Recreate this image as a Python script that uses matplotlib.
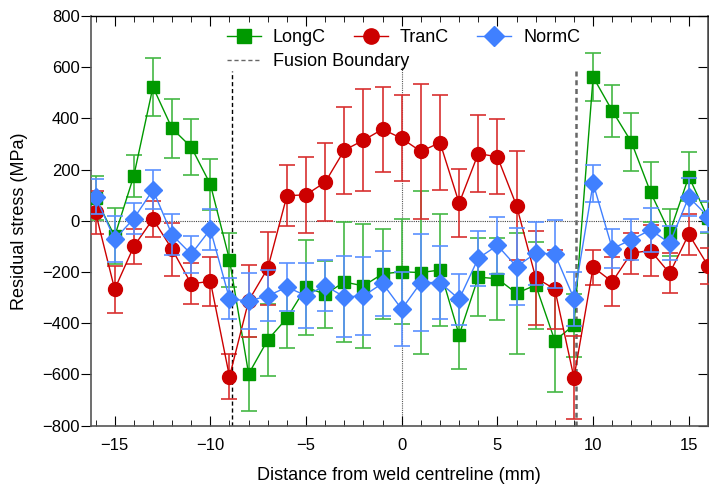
import numpy as np
import matplotlib
matplotlib.use("Agg")
from matplotlib import pyplot as plt
from matplotlib.ticker import MultipleLocator
from matplotlib.lines import Line2D

plt.rcParams['font.family'] = ['Liberation Sans', 'DejaVu Sans']

x = np.arange(-16, 17)

longc = [90, -60, 176, 523, 361, 288, 143, -152, -598, -465, -380, -259, -287, -239, -254, -207, -199,
         -202, -192, -446, -220, -226, -283, -251, -468, -407, 562, 430, 308, 112, -46, 173, 12]
longc_err = [85, 110, 82, 115, 115, 108, 100, 105, 145, 140, 118, 185, 130, 233, 241, 176, 205,
             320, 218, 131, 153, 160, 237, 170, 200, 123, 92, 102, 114, 116, 92, 95, 60]

tranc = [33, -267, -100, 7, -111, -246, -236, -609, -312, -185, 98, 102, 151, 276, 315, 358, 322,
         271, 306, 69, 263, 250, 59, -222, -267, -613, -181, -238, -126, -116, -205, -52, -175]
tranc_err = [84, 92, 70, 70, 103, 80, 96, 88, 140, 142, 120, 148, 153, 170, 200, 166, 168,
             262, 184, 133, 149, 146, 213, 183, 155, 163, 68, 95, 80, 100, 78, 80, 70]

normc = [95, -72, 9, 121, -55, -130, -33, -305, -313, -293, -259, -292, -253, -297, -293, -244, -345,
         -241, -241, -306, -146, -96, -179, -126, -129, -304, 147, -108, -74, -35, -87, 93, 17]
normc_err = [67, 90, 60, 76, 80, 72, 79, 80, 108, 100, 93, 126, 100, 158, 153, 127, 144,
             190, 142, 100, 108, 113, 150, 123, 133, 106, 72, 78, 80, 85, 66, 75, 60]

fusion = [-8.85, 9.1]

fig = plt.figure(figsize=(7.09, 4.87), dpi=100)
ax = fig.add_axes([0.128, 0.126, 0.8705, 0.841])

# reference lines stop below the legend
ax.axhline(0, color='#444444', lw=0.8, ls=(0, (1, 1)), zorder=1)
ax.vlines(0, -800, 600, color='#555555', lw=0.8, ls=(0, (1, 1)), zorder=1)
ax.vlines(fusion[0], -800, 585, color='black', lw=1.0, ls=(0, (3, 2)), zorder=1)
ax.vlines(fusion[1], -800, 585, color='#666666', lw=1.8, ls=(0, (2, 1.5)), zorder=1)

ax.errorbar(x, longc, yerr=longc_err, color='#009900', ecolor='#44b844', elinewidth=1.2,
            capsize=6, capthick=1.2, marker='s', markersize=9, lw=1, zorder=3)
ax.errorbar(x, tranc, yerr=tranc_err, color='#cc0000', ecolor='#d83030', elinewidth=1.2,
            capsize=6, capthick=1.2, marker='o', markersize=10, lw=1, zorder=4)
ax.errorbar(x, normc, yerr=normc_err, color='#4080ff', ecolor='#5a90ff', elinewidth=1.2,
            capsize=6, capthick=1.2, marker='D', markersize=9, lw=1, zorder=5)

ax.set_xlim(-16.25, 16)
ax.set_ylim(-800, 800)
ax.xaxis.set_major_locator(MultipleLocator(5))
ax.xaxis.set_minor_locator(MultipleLocator(1))
ax.yaxis.set_major_locator(MultipleLocator(200))
ax.tick_params(axis='x', which='both', direction='in', top=True, labelsize=12, pad=9)
ax.tick_params(axis='x', which='major', length=7)
ax.tick_params(axis='x', which='minor', length=4)
ax.tick_params(axis='y', direction='out', length=7, labelsize=12, pad=1)
for s in ['left', 'bottom', 'top', 'right']:
    ax.spines[s].set_color('#555555')
    ax.spines[s].set_linewidth(1.2)
ax.spines['top'].set_color('black')
ax.spines['top'].set_linewidth(1.0)

right = ax.secondary_yaxis('right')
right.yaxis.set_major_locator(MultipleLocator(200))
right.tick_params(direction='in', length=7, labelright=False)

ax.set_xlabel('Distance from weld centreline (mm)', fontsize=13, labelpad=10)
ax.set_ylabel('Residual stress (MPa)', fontsize=13, labelpad=10)

# legend: series in one row, fusion boundary below the first entry
hl = Line2D([], [], color='#009900', marker='s', markersize=10, lw=1)
ht = Line2D([], [], color='#cc0000', marker='o', markersize=11, lw=1)
hn = Line2D([], [], color='#4080ff', marker='D', markersize=10, lw=1)
hf = Line2D([], [], color='#666666', lw=1, ls=(0, (3, 2)))
fig.legend([hl, ht, hn], ['LongC', 'TranC', 'NormC'], ncol=3, frameon=False,
           loc='upper left', bbox_to_anchor=(0.320, 0.940), fontsize=13,
           handlelength=1.9, handletextpad=0.65, columnspacing=1.55,
           borderpad=0, borderaxespad=0)
fig.legend([hf], ['Fusion Boundary'], frameon=False, loc='upper left',
           bbox_to_anchor=(0.320, 0.891), fontsize=13, handlelength=1.9,
           handletextpad=0.65, borderpad=0, borderaxespad=0)

fig.savefig('out.png', dpi=100)
